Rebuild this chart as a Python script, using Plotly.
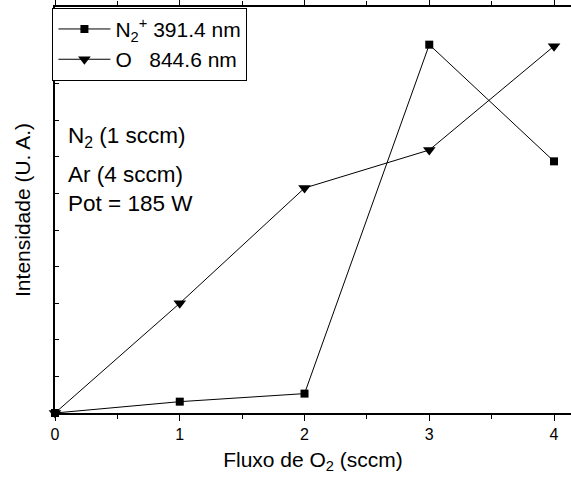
import plotly.graph_objects as go

x_flux = [0, 1, 2, 3, 4]
n2_plus = [0, 0.31, 0.53, 10.07, 6.88]
o_844 = [0, 3.0, 6.15, 7.19, 10.03]
x_ticks = [0, 1, 2, 3, 4]
x_ticklabels = ["0", "1", "2", "3", "4"]

FONT = "Liberation Sans, Arial, sans-serif"

fig = go.Figure()
fig.add_trace(go.Scatter(
    x=x_flux, y=n2_plus, mode="lines+markers",
    name="N<sub>2</sub><sup>+</sup> 391.4 nm",
    line=dict(color="black", width=1),
    marker=dict(symbol="square", size=8, color="black"),
    cliponaxis=False,
))
fig.add_trace(go.Scatter(
    x=x_flux, y=o_844, mode="lines+markers",
    name="O   844.6 nm",
    line=dict(color="black", width=1),
    marker=dict(symbol="triangle-down", size=11, color="black"),
    cliponaxis=False,
))

fig.update_layout(
    width=571, height=481,
    margin=dict(l=55, r=0, t=7, b=68),
    paper_bgcolor="white", plot_bgcolor="white",
    font=dict(family=FONT, color="black", size=16),
    showlegend=True,
    legend=dict(
        x=-0.005, y=0.998, xanchor="left", yanchor="top",
        bordercolor="black", borderwidth=1, bgcolor="white",
        font=dict(size=21, family=FONT),
        tracegroupgap=0, itemwidth=52,
    ),
    xaxis=dict(
        range=[0, 4.136], tickvals=x_ticks, ticktext=x_ticklabels,
        showline=True, linecolor="black", linewidth=1.5, mirror="ticks",
        ticks="outside", ticklen=6, tickwidth=1.2, tickcolor="black",
        minor=dict(dtick=0.5, ticks="outside", ticklen=4, tickcolor="black", tickwidth=1),
        showgrid=False, zeroline=False,
        tickfont=dict(size=16),
        title=dict(text="Fluxo de O<sub>2</sub> (sccm)", font=dict(size=21), standoff=10),
    ),
    yaxis=dict(
        range=[0, 11.1], dtick=1, tick0=0,
        showline=True, linecolor="black", linewidth=1.5,
        ticks="inside", ticklen=4, tickcolor="black", tickwidth=1,
        showticklabels=False, showgrid=False, zeroline=False,
        title=dict(text="Intensidade (U. A.)", font=dict(size=21), standoff=17),
    ),
)

annotations = [
    ("N<sub>2</sub> (1 sccm)", 0.68),
    ("Ar (4 sccm)", 0.587),
    ("Pot = 185 W", 0.516),
]
for txt, yy in annotations:
    fig.add_annotation(
        text=txt, xref="paper", yref="paper", x=0.022, y=yy,
        xanchor="left", yanchor="middle", showarrow=False,
        font=dict(size=22.5, family=FONT, color="black"),
    )

fig.write_html("out.html")
